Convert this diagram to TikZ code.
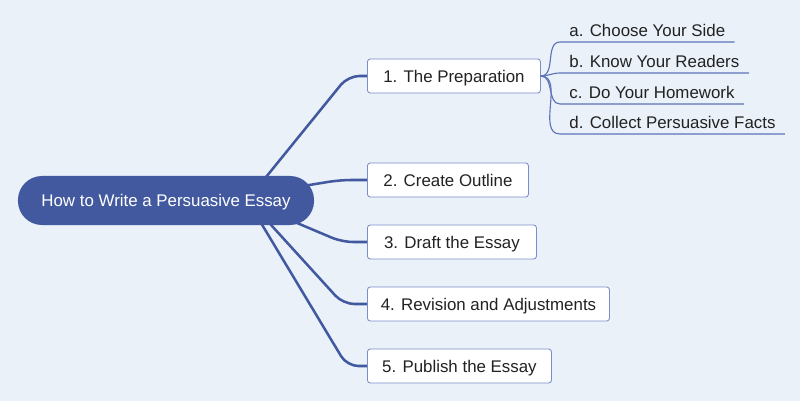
\documentclass[tikz,border=0pt]{standalone}
\usepackage{fontspec}
\setmainfont{Liberation Sans}
\usetikzlibrary{backgrounds}
\definecolor{bgblue}{HTML}{EAF1F9}
\definecolor{rootblue}{HTML}{4259A0}
\definecolor{boxline}{HTML}{7B8DC9}
\definecolor{leafline}{HTML}{5C72B9}
\definecolor{txtgray}{HTML}{222222}

\begin{document}
\begin{tikzpicture}[x=0.025cm,y=-0.025cm,
  font=\fontsize{12}{14}\selectfont,
  rootbox/.style={fill=rootblue,text=white,rounded corners=0.6cm,minimum width=7.4cm,minimum height=1.225cm,inner sep=0pt,text height=8.6pt,text depth=0pt},
  topic/.style={draw=boxline,fill=white,text=txtgray,rounded corners=2pt,minimum height=0.85cm,inner sep=0pt,anchor=west,line width=0.6pt,text height=8.6pt,text depth=0pt},
  leaf/.style={text=txtgray,anchor=south west,inner xsep=0.23cm,inner ysep=0.6pt,text height=8.6pt,text depth=3pt},
  branch/.style={draw=rootblue,line width=1.8pt,rounded corners=8pt},
  twig/.style={draw=leafline,line width=0.8pt}]
\begin{scope}[on background layer]
\fill[bgblue] (0,0) rectangle (800,401);
\end{scope}
\useasboundingbox (0,0) rectangle (800,401);

\node[rootbox] (root) at (166,200.5) {How to Write a Persuasive Essay};
\node[topic,minimum width=4.325cm] (prep) at (367,76) {1. The Preparation};
\node[topic,minimum width=4.025cm] (outline) at (367,180) {2. Create Outline};
\node[topic,minimum width=4.225cm] (draft) at (367,242) {3. Draft the Essay};
\node[topic,minimum width=6.05cm] (revise) at (367,304) {4. Revision and Adjustments};
\node[topic,minimum width=4.6cm] (publish) at (367,366) {5. Publish the Essay};

\node[leaf] (side) at (560,42) {a. Choose Your Side};
\node[leaf] (readers) at (560,73) {b. Know Your Readers};
\node[leaf] (homework) at (560,104) {c. Do Your Homework};
\node[leaf] (facts) at (560,134) {d. Collect Persuasive Facts};

\begin{scope}[on background layer]
\draw[branch] ([shift={(96,-18.5)}]root.center) -- ([shift={(-19,0)}]prep.west) -- (prep.west);
\draw[branch] ([shift={(134,-14)}]root.center) -- ([shift={(-27,0)}]outline.west) -- (outline.west);
\draw[branch] ([shift={(124,19.5)}]root.center) -- ([shift={(-25,0)}]draft.west) -- (draft.west);
\draw[branch] ([shift={(96,14.5)}]root.center) -- ([shift={(-24,0)}]revise.west) -- (revise.west);
\draw[branch] ([shift={(89,12.5)}]root.center) -- ([shift={(-20,0)}]publish.west) -- (publish.west);
\end{scope}

\draw[twig] (prep.east) to[out=0,in=180] (side.south west) -- (side.south east);
\draw[twig] (prep.east) to[out=0,in=180] (readers.south west) -- (readers.south east);
\draw[twig] (prep.east) to[out=0,in=180] (homework.south west) -- (homework.south east);
\draw[twig] (prep.east) to[out=0,in=180] (facts.south west) -- (facts.south east);
\end{tikzpicture}
\end{document}
